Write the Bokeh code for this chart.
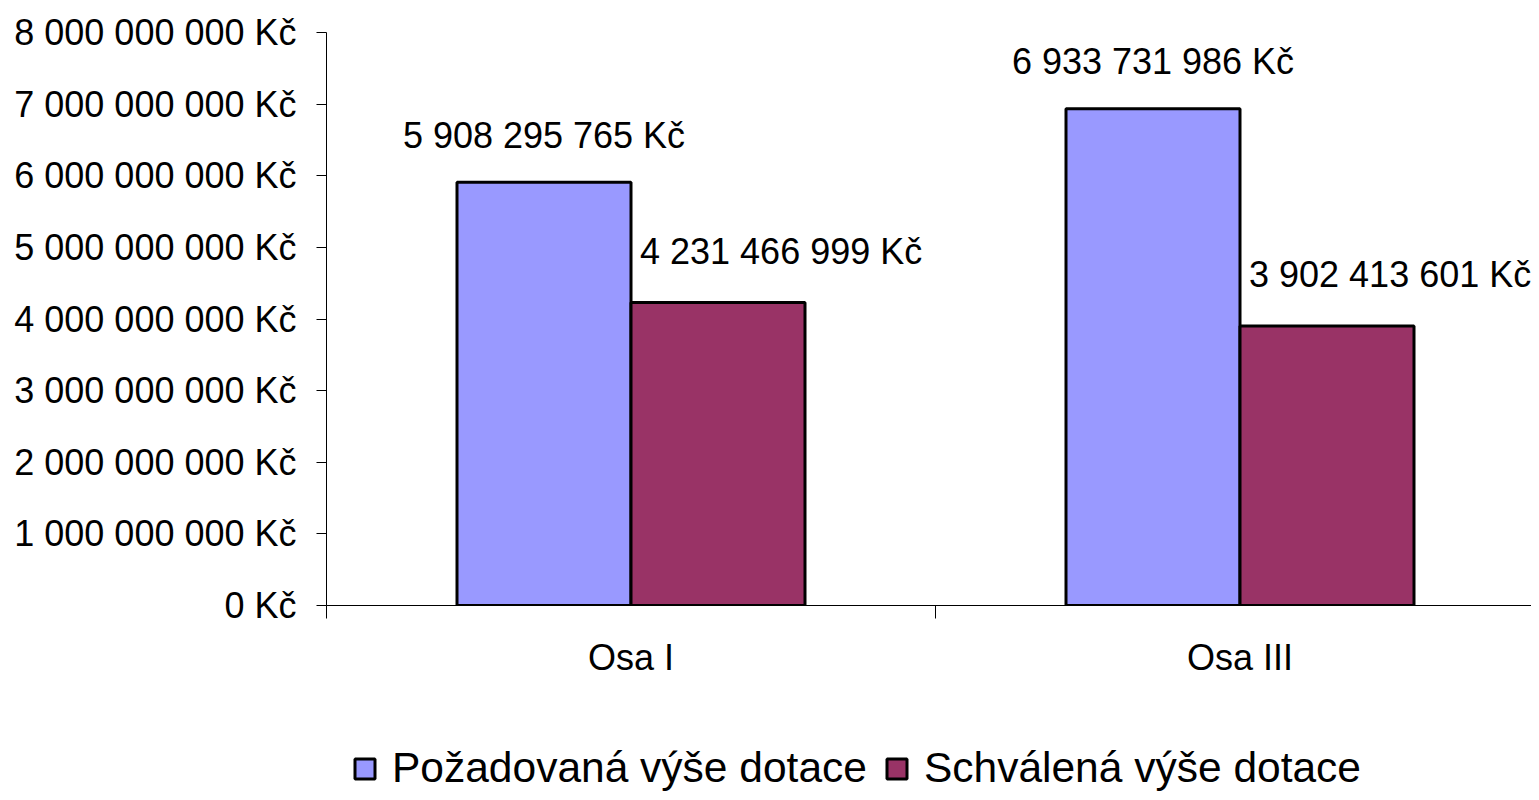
from bokeh.plotting import figure
from bokeh.layouts import column
from bokeh.models import (Range1d, FixedTicker, Legend, LegendItem, ColumnDataSource)
from bokeh.core.properties import value
from bokeh.embed import file_html
from bokeh.resources import INLINE

# ---- data ----
categories = ["Osa I", "Osa III"]
series_names = ["Požadovaná výše dotace", "Schválená výše dotace"]
requested = [5908295765, 6933731986]
approved = [4231466999, 3902413601]
y_ticks = [0, 1000000000, 2000000000, 3000000000, 4000000000,
           5000000000, 6000000000, 7000000000, 8000000000]

FONT = "Liberation Sans"
BLUE = "#9999FF"
RED = "#993366"

def kc(v):
    return f"{v:,}".replace(",", " ") + " Kč"

bar_w = 1 / 3.5
idx = list(range(len(categories)))
centers = [i + 0.5 for i in idx]

src_req = ColumnDataSource(dict(
    x=[c - bar_w / 2 for c in centers], top=requested,
    label=[kc(v) for v in requested]))
src_app = ColumnDataSource(dict(
    x=[c + bar_w / 2 for c in centers], lx=centers, top=approved,
    label=[kc(v) for v in approved]))

W = 1531
H1 = 690
H2 = 102
LEFT = 326
TOP = 32
BOTTOM = H1 - 605
p = figure(width=W, height=H1, output_backend="svg", toolbar_location=None,
           x_range=Range1d(0, (W - LEFT) / 609), y_range=Range1d(0, 8000000000),
           min_border_left=LEFT, min_border_top=TOP, min_border_bottom=BOTTOM,
           min_border_right=0)
p.outline_line_color = None
p.xgrid.visible = False
p.ygrid.visible = False
p.background_fill_color = "white"
p.border_fill_color = "white"

bar_style = dict(line_color="black", line_width=3)
p.vbar(x="x", top="top", width=bar_w, source=src_req, fill_color=BLUE, **bar_style)
p.vbar(x="x", top="top", width=bar_w, source=src_app, fill_color=RED, **bar_style)

p.text(x="x", y="top", text="label", source=src_req,
       text_font=value(FONT), text_font_size=value("36px"), text_color="black",
       text_align="center", text_baseline="alphabetic", y_offset=-47)
p.text(x="lx", y="top", text="label", source=src_app,
       text_font=value(FONT), text_font_size=value("36px"), text_color="black",
       text_align="left", text_baseline="alphabetic", x_offset=9, y_offset=-51)

# y axis
ya = p.yaxis[0]
ya.ticker = FixedTicker(ticks=y_ticks)
ya.major_label_overrides = {t: kc(t) for t in y_ticks}
ya.major_label_text_font = FONT
ya.major_label_text_font_size = "36px"
ya.major_label_text_color = "black"
ya.major_tick_out = 10
ya.major_tick_in = 0
ya.minor_tick_line_color = None
ya.major_label_standoff = 20
ya.axis_line_color = "black"
ya.major_tick_line_color = "black"

# x axis
xa = p.xaxis[0]
xa.ticker = FixedTicker(ticks=centers, minor_ticks=[0, 1, 2])
xa.major_label_overrides = {c: n for c, n in zip(centers, categories)}
xa.major_label_text_font = FONT
xa.major_label_text_font_size = "36px"
xa.major_label_text_color = "black"
xa.major_tick_line_color = None
xa.major_tick_out = 0
xa.major_tick_in = 0
xa.minor_tick_out = 13
xa.minor_tick_in = 0
xa.minor_tick_line_color = "black"
xa.axis_line_color = "black"
xa.major_label_standoff = 18

# legend strip: hidden copies of the two bar series provide the legend swatches
p2 = figure(width=W, height=H2, output_backend="svg", toolbar_location=None,
            x_range=Range1d(0, 1), y_range=Range1d(0, 1),
            x_axis_type=None, y_axis_type=None,
            min_border=0)
p2.outline_line_color = None
p2.xgrid.visible = False
p2.ygrid.visible = False
p2.border_fill_color = "white"
lr1 = p2.vbar(x="x", top="top", width=bar_w, source=src_req, fill_color=BLUE,
              visible=False, **bar_style)
lr2 = p2.vbar(x="x", top="top", width=bar_w, source=src_app, fill_color=RED,
              visible=False, **bar_style)

legend = Legend(items=[LegendItem(label=series_names[0], renderers=[lr1]),
                       LegendItem(label=series_names[1], renderers=[lr2])],
                orientation="horizontal", location=(26, 0),
                label_text_font=FONT, label_text_font_size="42.5px",
                label_text_color="black",
                glyph_width=25, glyph_height=25, label_standoff=15,
                spacing=17, padding=0, margin=0,
                inactive_fill_alpha=0,
                border_line_color=None, background_fill_alpha=0)
p2.add_layout(legend, "center")

layout = column(p, p2, spacing=0)
open("out.html", "w").write(file_html(layout, INLINE))
